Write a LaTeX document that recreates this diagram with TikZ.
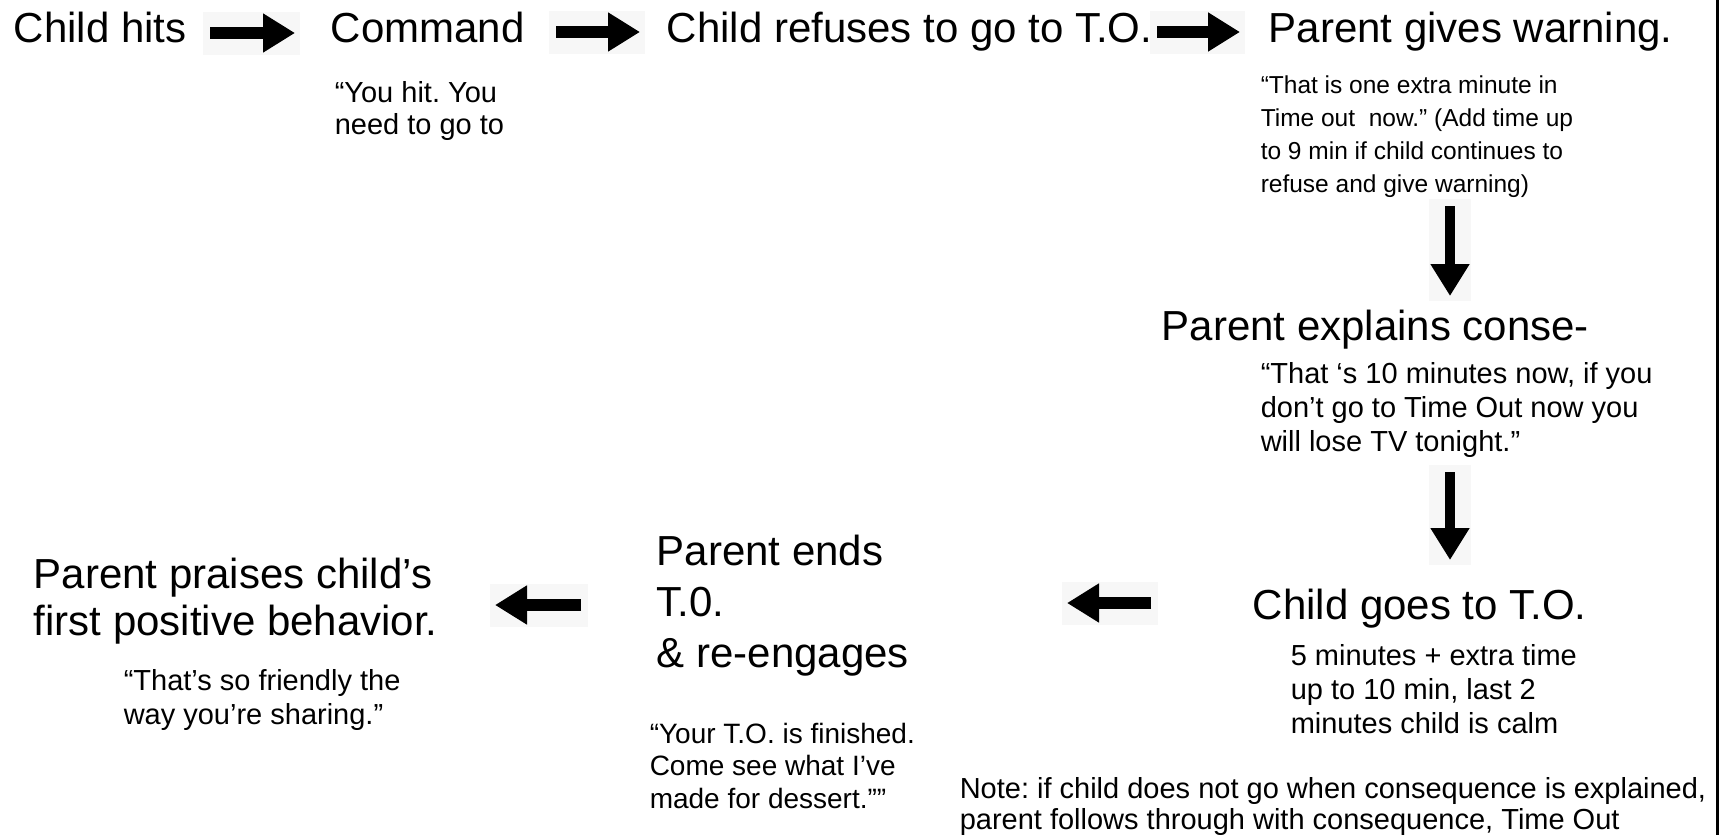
\documentclass[tikz,border=0pt]{standalone}
\usepackage{fontspec}
\setmainfont{Liberation Sans}
\usetikzlibrary{arrows.meta}
\frenchspacing

\tikzset{every picture/.style={line width=0.75pt}}
\tikzset{
  bigtext/.style={font=\fontsize{21}{25.5}\selectfont, align=left},
  smalltext/.style={font=\fontsize{14.5}{17}\selectfont, align=left},
  blockarrow/.style={line width=6pt, -{Triangle[length=16pt,width=18.5pt]}},
  arrowbg/.style={fill=black!3}
}

\begin{document}
\begin{tikzpicture}[x=0.5pt,y=0.5pt,yscale=-1,xscale=1]
\useasboundingbox (0,0) rectangle (1722,835);

%Straight Lines [id:right border]
\draw [line width=1.5pt] (1717.5,0) -- (1717.5,835) ;

%Arrow ends
\coordinate (a1s) at (210,33) ; \coordinate (a1e) at (295,33) ;
\coordinate (a2s) at (556,32) ; \coordinate (a2e) at (640,32) ;
\coordinate (a3s) at (1157,32) ; \coordinate (a3e) at (1240,32) ;
\coordinate (d1s) at (1450,206) ; \coordinate (d1e) at (1450,296) ;
\coordinate (d2s) at (1450,472) ; \coordinate (d2e) at (1450,560) ;
\coordinate (l1s) at (1151,603) ; \coordinate (l1e) at (1067,603) ;
\coordinate (l2s) at (581,605) ; \coordinate (l2e) at (495,605) ;

%Arrow backgrounds
\fill [arrowbg] (203,12) rectangle (300,55) ;
\fill [arrowbg] (549,11) rectangle (645,54) ;
\fill [arrowbg] (1150,11) rectangle (1245,54) ;
\fill [arrowbg] (1429,199) rectangle (1471,301) ;
\fill [arrowbg] (1429,465) rectangle (1471,565) ;
\fill [arrowbg] (1062,582) rectangle (1158,625) ;
\fill [arrowbg] (490,584) rectangle (588,627) ;

%Block Arrows
\draw [blockarrow] (a1s) -- (a1e) ;
\draw [blockarrow] (a2s) -- (a2e) ;
\draw [blockarrow] (a3s) -- (a3e) ;
\draw [blockarrow, line width=5pt] (d1s) -- (d1e) ;
\draw [blockarrow, line width=5pt] (d2s) -- (d2e) ;
\draw [blockarrow] (l1s) -- (l1e) ;
\draw [blockarrow] (l2s) -- (l2e) ;

% Text Node
\draw (13,42) node (hits) [anchor=base west][inner sep=0pt] [bigtext] {Child hits};
% Text Node
\draw (330,42) node (command) [anchor=base west][inner sep=0pt] [bigtext] {Command};
% Text Node
\draw (666,42) node (refuses) [anchor=base west][inner sep=0pt] [bigtext] {Child refuses to go to T.O.};
% Text Node
\draw (1268,42) node (warning) [anchor=base west][inner sep=0pt] [bigtext] {Parent gives warning.};
% Text Node
\draw (334,134) node (hitquote) [anchor=base west][inner sep=0pt] [smalltext, font=\fontsize{14.5}{16}\selectfont] {“You hit. You\\need to go to};
% Text Node
\draw (1260,192) node (warnquote) [anchor=base west][inner sep=0pt] [smalltext, font=\fontsize{12.25}{16.5}\selectfont] {“That is one extra minute in\\Time out\ \ now.” (Add time up\\to 9 min if child continues to\\refuse and give warning)};
% Text Node
\draw (1161,340) node (explains) [anchor=base west][inner sep=0pt] [bigtext] {Parent explains conse-};
% Text Node
\draw (1260,451) node (tvquote) [anchor=base west][inner sep=0pt] [smalltext] {“That ‘s 10 minutes now, if you\\don’t go to Time Out now you\\will lose TV tonight.”};
% Text Node
\draw (1252,619) node (goes) [anchor=base west][inner sep=0pt] [bigtext] {Child goes to T.O.};
% Text Node
\draw (1290,733) node (calm) [anchor=base west][inner sep=0pt] [smalltext] {5 minutes + extra time\\up to 10 min, last 2\\minutes child is calm};
% Text Node
\draw (656,667) node (ends) [anchor=base west][inner sep=0pt] [bigtext] {Parent ends\\T.0.\\\& re-engages};
% Text Node
\draw (649,808) node (dessert) [anchor=base west][inner sep=0pt] [smalltext, font=\fontsize{14}{16.25}\selectfont] {“Your T.O. is finished.\\Come see what I’ve\\made for dessert.””};
% Text Node
\draw (33,635) node (praises) [anchor=base west][inner sep=0pt] [bigtext, font=\fontsize{21}{23.5}\selectfont] {Parent praises child’s\\first positive behavior.};
% Text Node
\draw (123,724) node (sharing) [anchor=base west][inner sep=0pt] [smalltext] {“That’s so friendly the\\way you’re sharing.”};
% Text Node
\draw (959,829) node (note) [anchor=base west][inner sep=0pt] [smalltext, font=\fontsize{14.5}{15.5}\selectfont] {Note: if child does not go when consequence is explained,\\parent follows through with consequence, Time Out};

\end{tikzpicture}
\end{document}
